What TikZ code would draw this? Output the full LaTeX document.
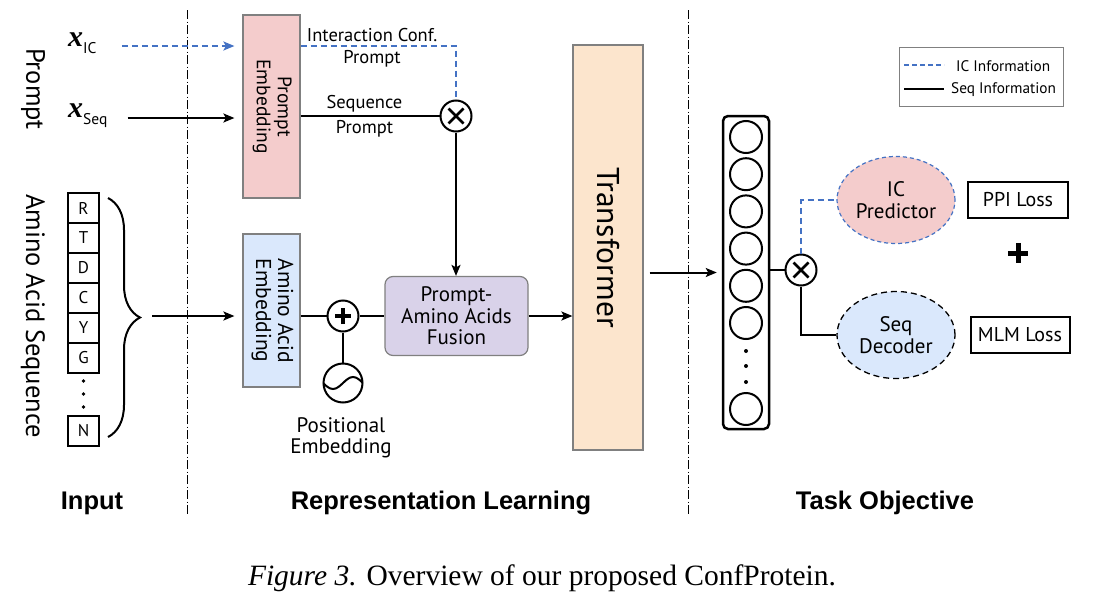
\documentclass[tikz,border=0pt]{standalone}
\usepackage{fontspec}
\setmainfont{PT Sans}
\newfontfamily\capfont{Liberation Serif}
\newfontfamily\headfont{Liberation Sans}
\usepackage{graphicx}
\usetikzlibrary{arrows.meta,shapes.geometric,decorations.pathreplacing,positioning,calc}
\definecolor{icblue}{RGB}{68,114,196}
\definecolor{pinkfill}{RGB}{244,204,204}
\definecolor{bluefill}{RGB}{218,232,252}
\definecolor{lilacfill}{RGB}{217,210,233}
\definecolor{peachfill}{RGB}{252,229,205}
\definecolor{edgegray}{RGB}{128,128,128}
\newcommand{\fsz}[2]{\fontsize{#1}{#2}\selectfont}
\newcommand{\vtext}[1]{\rotatebox{-90}{\begin{tabular}{@{}c@{}}#1\end{tabular}}}

\begin{document}
\begin{tikzpicture}[x=1pt,y=-1pt,
  seqline/.style={line width=2pt},
  icline/.style={icblue, line width=2pt, dash pattern=on 6pt off 4pt},
  tip/.style={-{Stealth[length=11pt,width=9pt,inset=2.5pt]}},
  divider/.style={line width=0.8pt, dash pattern=on 9pt off 2.5pt on 1pt off 2.5pt},
  embbox/.style={draw=edgegray, line width=1.2pt, inner sep=0pt, font=\fsz{19.5}{21}},
  aabox/.style={draw, line width=1.5pt, minimum width=31pt, minimum height=30pt, inner sep=0pt, font=\fsz{17}{17}},
  opnode/.style={circle, draw, line width=2pt, minimum size=31pt, inner sep=0pt},
  mulnode/.style={opnode, path picture={\draw[line width=2.8pt]
      ($(path picture bounding box.center)+(-7.5pt,-7.5pt)$) -- +(15pt,15pt)
      ($(path picture bounding box.center)+(-7.5pt,7.5pt)$) -- +(15pt,-15pt);}},
  addnode/.style={opnode, path picture={\draw[line width=3.8pt]
      ($(path picture bounding box.center)+(-8pt,0pt)$) -- +(16pt,0pt)
      ($(path picture bounding box.center)+(0pt,-8pt)$) -- +(0pt,16pt);}},
  unit/.style={circle, draw, line width=2pt, minimum size=32pt, inner sep=0pt},
  lossbox/.style={draw, line width=2pt, minimum width=100pt, minimum height=36pt, inner sep=0pt, font=\fsz{20}{20}},
  lbl/.style={inner sep=0pt, align=center, text=black, font=\fsz{18.5}{24}},
  head/.style={font=\headfont\bfseries\fsz{25.5}{25.5}}
]
\useasboundingbox (0,0) rectangle (1104,608);

% section dividers
\draw[divider] (187,10) -- (187,515);
\draw[divider] (688,10) -- (688,515);

% input side
\node[rotate=-90, font=\fsz{26.5}{26.5}] (promptlbl) at (33,89) {Prompt};
\node[rotate=-90, font=\fsz{26.5}{26.5}] (aaseqlbl) at (33,316) {Amino Acid Sequence};
\node[anchor=base west, inner sep=0pt] (xic) at (68,46) {{\capfont\bfseries\itshape\fsz{30}{30}x}\raisebox{-7pt}{\fsz{15.5}{15.5}IC}};
\node[anchor=base west, inner sep=0pt] (xseq) at (68,117) {{\capfont\bfseries\itshape\fsz{30}{30}x}\raisebox{-7pt}{\fsz{15.5}{15.5}Seq}};
\foreach \l [count=\i] in {R,T,D,C,Y,G}
  \node[aabox] (aa\i) at (83.5,178+30*\i) {\l};
\foreach \k in {381,394,407}
  \fill (83.5,\k) circle (1.8pt);
\node[aabox] (aaN) at (83.5,431) {N};
\draw[line width=2pt, decorate, decoration={brace, amplitude=32pt}] (108,198) -- (108,437);
\coordinate (bracetip) at (152,316);

% representation learning
\node[embbox, fill=pinkfill, minimum width=57pt, minimum height=183pt] (pemb) at (271.5,106.5) {\vtext{Prompt\\Embedding}};
\node[embbox, fill=bluefill, minimum width=57pt, minimum height=153pt, font=\fsz{21.5}{22}] (aemb) at (271.5,310.5) {\vtext{Amino Acid\\Embedding}};
\node[mulnode] (mult) at (456,116) {};
\node[addnode] (add) at (343,316) {};
\node[opnode, minimum size=39pt, path picture={\draw[line width=2pt] ($(path picture bounding box.center)+(-20pt,0pt)$) sin +(10pt,-6pt) cos +(10pt,6pt) sin +(10pt,6pt) cos +(10pt,-6pt);}] (wave) at (343,383) {};
\node[lbl, font=\fsz{21}{21}] (poslbl) at (341,438) {Positional\\Embedding};
\node[embbox, fill=lilacfill, rounded corners=8pt, minimum width=143pt, minimum height=79pt, align=center, font=\fsz{21}{21.5}] (fusion) at (456.5,316) {Prompt-\\Amino Acids\\Fusion};
\node[embbox, fill=peachfill, minimum width=70pt, minimum height=405pt, font=\fsz{31.5}{31.5}] (trans) at (608,247.5) {\rotatebox{-90}{Transformer}};

\draw[icline, tip, shorten >=8pt] ([xshift=25pt]xic.base east) -- (xic.base east -| pemb.west);
\draw[seqline, tip, shorten >=8pt] ([xshift=20pt,yshift=-1pt]xseq.base east) -- ([yshift=-1pt]xseq.base east -| pemb.west);
\draw[icline] (pemb.east |- xic.base) -- (mult |- xic.base) node[lbl, pos=0.46, above=3pt] {Interaction Conf.} node[lbl, pos=0.46, below=3pt] {Prompt} -- (mult.north);
\draw[seqline] (pemb.east |- mult) -- (mult.west) node[lbl, pos=0.46, above=3pt] {Sequence} node[lbl, pos=0.46, below=3pt] {Prompt};
\draw[seqline, tip] (mult.south) -- (mult |- fusion.north);
\draw[seqline, tip, shorten >=8pt] (bracetip) -- (aemb.west |- bracetip);
\draw[seqline] (aemb.east |- add) -- (add.west);
\draw[seqline] (add.east) -- (fusion.west |- add);
\draw[seqline] (add.south) -- (wave.north);
\draw[seqline, tip] (fusion.east) -- (trans.west |- fusion.east);

% task objective
\node[draw, line width=2.5pt, rounded corners=5pt, minimum width=46pt, minimum height=313pt] (col) at (746,272.5) {};
\foreach \k in {0,...,5}
  \node[unit] (u\k) at (746,137+37.2*\k) {};
\node[unit] (u6) at (746,409) {};
\foreach \k in {351,366,382}
  \fill (746,\k) circle (2pt);
\draw[seqline, tip, shorten <=6pt, shorten >=5pt] (trans.east |- col) -- (col.west);
\node[mulnode] (mulr) at (801,270) {};
\draw[seqline] (col.east |- mulr) -- (mulr.west);
\node[ellipse, fill=pinkfill, draw=icblue, line width=1.2pt, dash pattern=on 4pt off 3pt, minimum width=118pt, minimum height=87pt, inner sep=0pt, align=center, font=\fsz{21}{22}] (icpred) at (896,200) {IC\\Predictor};
\node[ellipse, fill=bluefill, draw, line width=1.3pt, dash pattern=on 6pt off 4pt, minimum width=118pt, minimum height=87pt, inner sep=0pt, align=center, font=\fsz{21}{22}] (seqdec) at (896,335) {Seq\\Decoder};
\draw[icline] (mulr.north) |- (icpred.west);
\draw[seqline] (mulr.south) |- (seqdec.west);
\node[lossbox] (ppi) at (1018,200) {PPI Loss};
\node[lossbox, minimum width=99pt] (mlm) at (1020,335) {MLM Loss};
\node[inner sep=0pt, minimum size=20pt] (plus) at (1018,253) {};
\draw[line width=5pt] (plus.west) -- (plus.east) (plus.north) -- (plus.south);

% legend
\node[draw=edgegray, line width=1pt, minimum width=164pt, minimum height=59pt] (legend) at (981,76.5) {};
\draw[icline, line width=1.8pt, dash pattern=on 5pt off 3pt] (904,65) -- (944,65);
\draw[seqline] (904,89) -- (944,89);
\node[anchor=west, inner sep=0pt, font=\fsz{15.3}{15.3}] (icinfo) at (956,66) {IC Information};
\node[anchor=west, inner sep=0pt, font=\fsz{15.3}{15.3}] (seqinfo) at (951,90) {Seq Information};

% stage titles and caption
\node[head] (inputlbl) at (92,503) {Input};
\node[head] (replbl) at (441,503) {Representation Learning};
\node[head] (tasklbl) at (885,503) {Task Objective};
\node[font=\capfont\fsz{29.5}{29.5}] (caption) at (542,578) {\textit{Figure 3.} Overview of our proposed ConfProtein.};
\end{tikzpicture}
\end{document}
